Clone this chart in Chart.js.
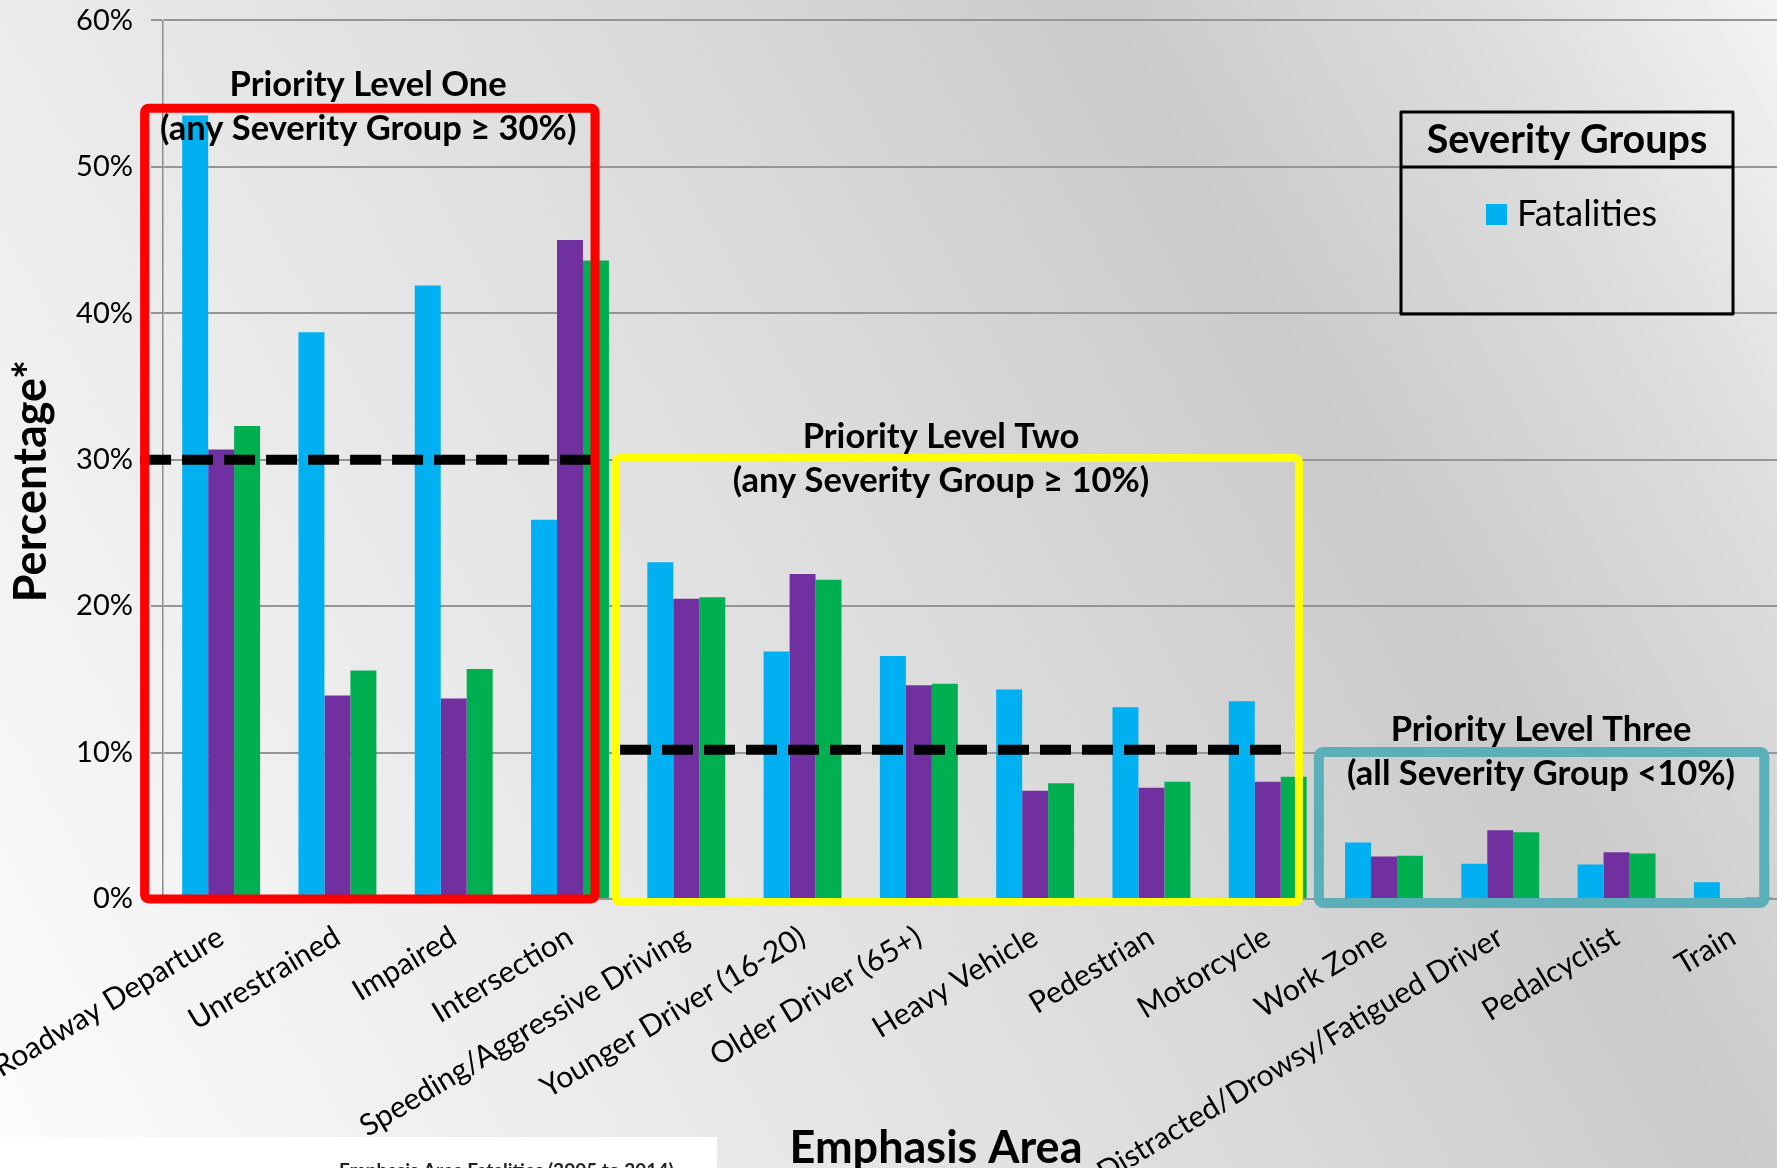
<!DOCTYPE html>
<html><head><meta charset="utf-8">
<script src="https://cdn.jsdelivr.net/npm/chart.js@4.4.1/dist/chart.umd.min.js"></script>
<style>
html,body{margin:0;padding:0;width:1777px;height:1168px;overflow:hidden;}
body{background:linear-gradient(61deg,#FCFCFC 0%,#EBEBEB 27%,#DCDCDC 50%,#CBCBCB 72%,#DEDEDE 88%,#F4F4F4 100%);}
#wrap{position:absolute;left:0;top:0;width:1795px;height:1168px;}
</style></head>
<body><div id="wrap"><canvas id="c"></canvas></div>
<script>
// ---------- data ----------
const categories = ['Roadway Departure','Unrestrained','Impaired','Intersection','Speeding/Aggressive Driving','Younger Driver (16-20)','Older Driver (65+)','Heavy Vehicle','Pedestrian','Motorcycle','Work Zone','Distracted/Drowsy/Fatigued Driver','Pedalcyclist','Train'];
const fatalities      = [53.5, 38.7, 41.9, 25.9, 23.0, 16.9, 16.6, 14.3, 13.1, 13.5, 3.85, 2.4, 2.35, 1.15];
const seriousInjuries = [30.7, 13.9, 13.7, 45.0, 20.5, 22.2, 14.6, 7.4, 7.6, 8.0, 2.9, 4.7, 3.2, 0.05];
const totalInjuries   = [32.3, 15.6, 15.7, 43.6, 20.6, 21.8, 14.7, 7.9, 8.0, 8.35, 2.95, 4.55, 3.1, 0.1];
const seriesNames = ['Fatalities','Serious Injuries','Total Injuries'];
const yTickValues = [0, 10, 20, 30, 40, 50, 60];
const thresholds = [30, 10.2];
const priorityTitles = [
  ['Priority Level One', '(any Severity Group \u2265 30%)'],
  ['Priority Level Two', '(any Severity Group \u2265 10%)'],
  ['Priority Level Three', '(all Severity Group <10%)']
];
const legendTitle = 'Severity Groups';
const xAxisTitle = 'Emphasis Area';
const yAxisTitle = 'Percentage*';
const footerFragment = 'Emphasis Area Fatalities (2005 to 2014)';

// ---------- styles / layout ----------
const colors = ['#00B0F0','#7030A0','#00B050'];
const FONT = 'Lato, "Open Sans", sans-serif';
Chart.defaults.font.family = FONT;
Chart.defaults.color = '#000';

// boxes in category-index units (x) and value units (y)
const boxes = [
  {x0:-0.658, x1:3.215, yTop:54.0, yBot:0,    color:'#FF0000', lw:9,  tx:1.264, t1:-12.5, t2:31.5},
  {x0:3.396,  x1:9.268, yTop:30.12,yBot:-0.2, color:'#FFFF00', lw:8,  tx:6.19,  t1:-10,   t2:33.7},
  {x0:9.44,   x1:13.27, yTop:10.04,yBot:-0.27,color:'#5BAFB8', lw:10, tx:11.35, t1:-11,   t2:33}
];
const dashLines = [
  {x0:-0.697, x1:3.19, v:thresholds[0]},
  {x0:3.43,   x1:9.13, v:thresholds[1]}
];

const overlay = {
  id:'overlay',
  afterDatasetsDraw(chart){
    const ctx = chart.ctx, xs = chart.scales.x, ys = chart.scales.y;
    const cw = xs.getPixelForValue(1) - xs.getPixelForValue(0);
    const px = u => xs.getPixelForValue(0) + u*cw;
    ctx.save();
    // dashed threshold lines
    ctx.strokeStyle = '#000'; ctx.lineWidth = 10; ctx.setLineDash([31,11]); ctx.lineCap='butt';
    dashLines.forEach(d=>{
      const y = ys.getPixelForValue(d.v);
      ctx.beginPath(); ctx.moveTo(px(d.x0), y); ctx.lineTo(px(d.x1), y); ctx.stroke();
    });
    ctx.setLineDash([]);
    // priority boxes
    boxes.forEach((b,i)=>{
      const l = px(b.x0), r = px(b.x1), t = ys.getPixelForValue(b.yTop), bt = ys.getPixelForValue(b.yBot);
      ctx.strokeStyle = b.color; ctx.lineWidth = b.lw; ctx.lineJoin='round';
      ctx.beginPath();
      if (ctx.roundRect) ctx.roundRect(l, t, r-l, bt-t, 4); else ctx.rect(l,t,r-l,bt-t);
      ctx.stroke();
      ctx.fillStyle = '#000'; ctx.textAlign='center'; ctx.textBaseline='alphabetic';
      ctx.font = 'bold 34.5px ' + FONT;
      ctx.fillText(priorityTitles[i][0], px(b.tx), t + b.t1);
      ctx.fillText(priorityTitles[i][1], px(b.tx), t + b.t2);
    });
    // legend
    ctx.strokeStyle = '#000'; ctx.lineWidth = 3;
    ctx.strokeRect(1401, 112, 332, 202);
    ctx.beginPath(); ctx.moveTo(1401,167); ctx.lineTo(1733,167); ctx.stroke();
    ctx.fillStyle = '#000'; ctx.textAlign='center'; ctx.font='bold 39.5px ' + FONT;
    ctx.fillText(legendTitle, 1567, 153);
    const ds = chart.data.datasets[0];
    ctx.fillStyle = ds.backgroundColor; ctx.fillRect(1486, 204, 21, 21);
    ctx.fillStyle = '#000'; ctx.textAlign='left'; ctx.font = '36px ' + FONT;
    ctx.fillText(ds.label, 1517, 226);
    // axis titles
    ctx.font = 'bold 45px ' + FONT; ctx.textAlign='center';
    ctx.fillText(xAxisTitle, 936, 1163);
    ctx.save(); ctx.translate(46, 481); ctx.rotate(-Math.PI/2);
    ctx.fillText(yAxisTitle, 0, 0); ctx.restore();
    // cut-off embedded picture at bottom-left
    ctx.fillStyle = '#FFFFFF'; ctx.fillRect(0, 1137, 717, 40);
    ctx.fillStyle = '#222'; ctx.textAlign='left'; ctx.font = 'bold 19px ' + FONT;
    ctx.fillText(footerFragment, 339, 1177);
    ctx.restore();
  }
};

new Chart(document.getElementById('c'), {
  type:'bar',
  data:{
    labels: categories,
    datasets:[
      {label:seriesNames[0], data:fatalities, backgroundColor:colors[0]},
      {label:seriesNames[1], data:seriousInjuries, backgroundColor:colors[1]},
      {label:seriesNames[2], data:totalInjuries, backgroundColor:colors[2]}
    ]
  },
  options:{
    responsive:true, maintainAspectRatio:false, devicePixelRatio:1, animation:false,
    layout:{padding:{top:20.4, right:4, left:0, bottom:0}},
    datasets:{bar:{categoryPercentage:0.67, barPercentage:1.0, borderWidth:0}},
    plugins:{legend:{display:false}, tooltip:{enabled:false}},
    scales:{
      x:{
        grid:{display:false}, border:{display:false},
        ticks:{autoSkip:false, minRotation:31, maxRotation:31, padding:12, font:{size:30}, color:'#000'},
        afterFit(s){ s.height = 269; s.paddingLeft = 0; s.paddingRight = 0; }
      },
      y:{
        min:0, max:60,
        afterBuildTicks(s){ s.ticks = yTickValues.map(v=>({value:v})); },
        grid:{color:'#959595', lineWidth:2, tickLength:12},
        border:{color:'#8C8C8C', width:1.5},
        ticks:{padding:18, font:{size:29}, color:'#000', callback:v=>v+'%'},
        afterFit(s){ s.width = 163; s.paddingTop = 0; s.paddingBottom = 0; }
      }
    }
  },
  plugins:[overlay]
});
</script>
</body></html>
